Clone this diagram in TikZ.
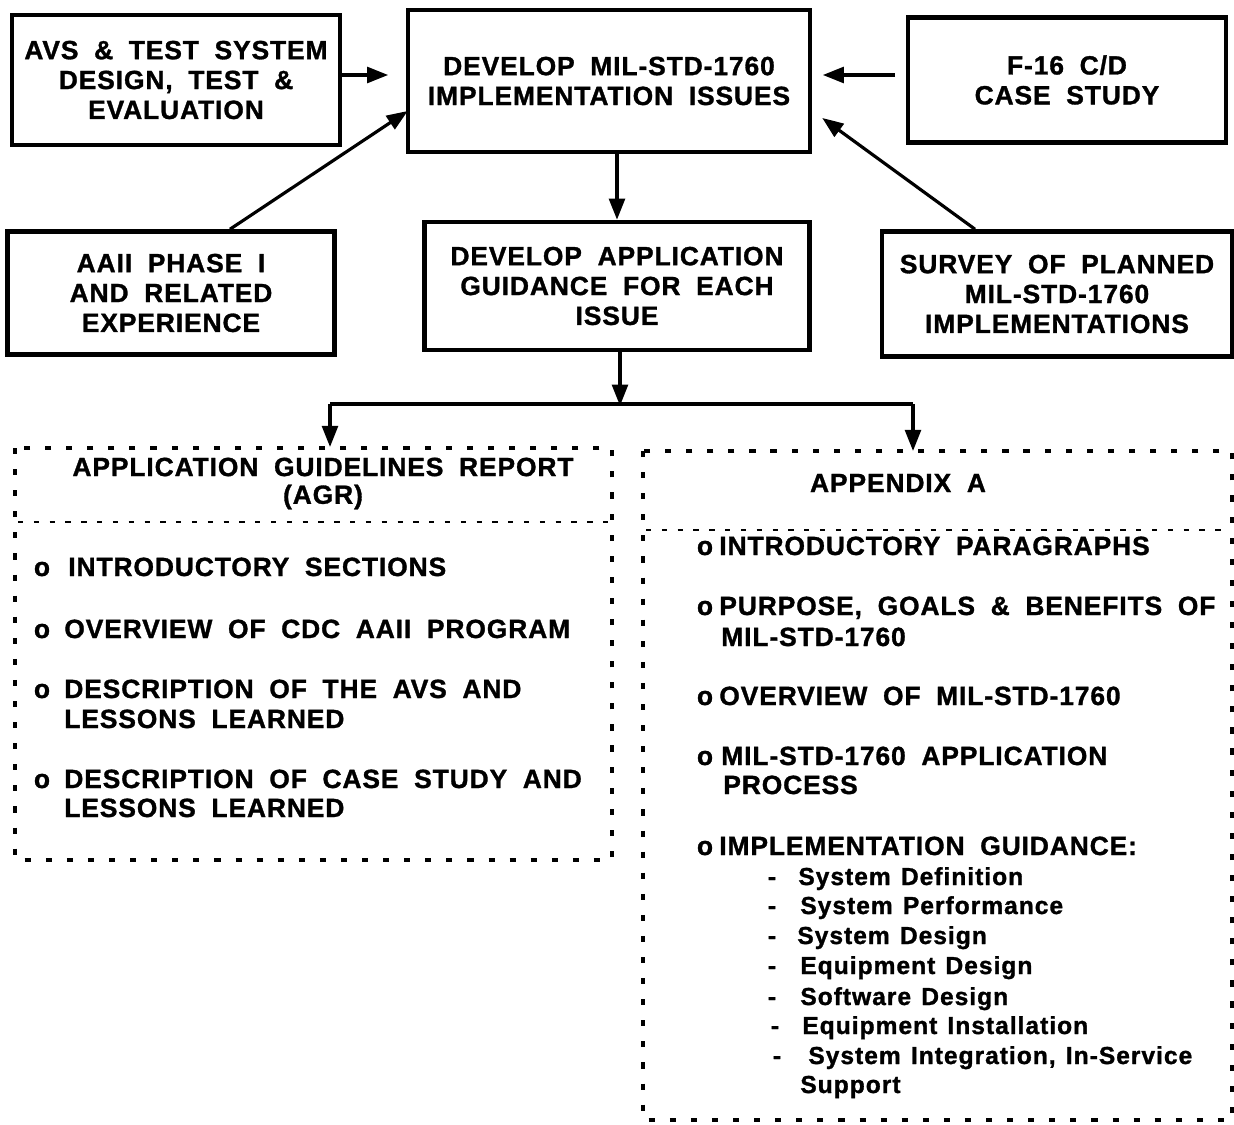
\documentclass[tikz,border=0pt]{standalone}
\usepackage{fontspec}
\setmainfont{Liberation Sans}
\newfontfamily\heavy[LetterSpace=3.5,WordSpace=1.9,FakeBold=1.2]{Liberation Sans}
\newfontfamily\heavysub[LetterSpace=4,WordSpace=1.3,FakeBold=1.2]{Liberation Sans}
\usetikzlibrary{arrows.meta,calc}

\tikzset{
  box/.style={draw, line width=2.6pt, rectangle, align=center, inner sep=0pt,
    font=\heavy\bfseries\fontsize{15}{17}\selectfont},
  arr/.style={line width=1.8pt, -{Triangle[length=12pt,width=9pt]}},
  link/.style={line width=1.8pt},
  dotbox/.style={line width=2.8pt, dash pattern=on 3.5pt off 8.5pt},
  divider/.style={line width=1.6pt, dash pattern=on 3pt off 6pt},
  caps/.style={inner sep=0pt, font=\heavy\bfseries\fontsize{15}{17}\selectfont},
  sub/.style={inner sep=0pt, font=\heavysub\bfseries\fontsize{14}{16}\selectfont},
}

\begin{document}
\begin{tikzpicture}[x=0.02cm, y=-0.02cm]
\useasboundingbox[fill=white] (0,0) rectangle (1234,1125);

% upper flow boxes
\node[box, minimum width=6.56cm, minimum height=2.6cm] (avs) at (176,80)
  {AVS \& TEST SYSTEM\\DESIGN, TEST \&\\EVALUATION};
\node[box, minimum width=8.04cm, minimum height=2.84cm] (ctr) at (609,81)
  {DEVELOP MIL-STD-1760\\IMPLEMENTATION ISSUES};
\node[box, minimum width=6.36cm, minimum height=2.5cm] (f16) at (1067,80)
  {F-16 C/D\\CASE STUDY};
\node[box, minimum width=6.54cm, minimum height=2.46cm] (aaii) at (171,293)
  {AAII PHASE I\\AND RELATED\\EXPERIENCE};
\node[box, minimum width=7.7cm, minimum height=2.56cm] (dev) at (617,286)
  {DEVELOP APPLICATION\\GUIDANCE FOR EACH\\ISSUE};
\node[box, minimum width=7.0cm, minimum height=2.5cm] (svy) at (1057,294)
  {SURVEY OF PLANNED\\MIL-STD-1760\\IMPLEMENTATIONS};

% connectors into the issues box
\draw[arr, shorten >=10pt] (avs.east |- 0,75) -- (ctr.west |- 0,75);
\draw[arr, shorten <=6pt, shorten >=6pt] (f16.west |- 0,75) -- (ctr.east |- 0,75);
\draw[arr] ([xshift=1.18cm]aaii.north) -- ([xshift=0.04cm,yshift=-0.6cm]ctr.west);
\draw[arr] ([xshift=-1.64cm]svy.north) -- ([xshift=0.2cm,yshift=-0.74cm]ctr.east);
\draw[arr] (ctr.south -| dev.north) -- (dev.north);

% split towards the two documents
\coordinate (split) at (620,404);
\coordinate (agrin) at (330,447);
\coordinate (appin) at (913,451);
\draw[arr, shorten >=-1pt] (dev.south -| split) -- (split);
\draw[link] (agrin |- split) -- (appin |- split);
\draw[arr] (agrin |- split) -- (agrin);
\draw[arr] (appin |- split) -- (appin);

% Application Guidelines Report
\draw[dotbox] (15,448) rectangle (612,860);
\draw[divider] (18,522) -- (609,522);
\node[caps] (agrt1) at (323,467) {APPLICATION GUIDELINES REPORT};
\node[caps] (agrt2) at (323,497) {(AGR)};
\node[caps, anchor=base] (agrb1) at (42,576) {o};
\node[caps, anchor=base west] (agri1) at (68,576) {INTRODUCTORY SECTIONS};
\node[caps, anchor=base] (agrb2) at (42,638) {o};
\node[caps, anchor=base west] (agri2) at (64,638) {OVERVIEW OF CDC AAII PROGRAM};
\node[caps, anchor=base] (agrb3) at (42,698) {o};
\node[caps, anchor=base west] (agri3a) at (64,698) {DESCRIPTION OF THE AVS AND};
\node[caps, anchor=base west] (agri3b) at (64,728) {LESSONS LEARNED};
\node[caps, anchor=base] (agrb4) at (42,788) {o};
\node[caps, anchor=base west] (agri4a) at (64,788) {DESCRIPTION OF CASE STUDY AND};
\node[caps, anchor=base west] (agri4b) at (64,817) {LESSONS LEARNED};

% Appendix A
\draw[dotbox] (643,451) rectangle (1232,1120);
\draw[divider] (646,530) -- (1229,530);
\node[caps] (appt) at (898,483) {APPENDIX A};
\node[caps, anchor=base] (appb1) at (705,555) {o};
\node[caps, anchor=base west] (appi1) at (719,555) {INTRODUCTORY PARAGRAPHS};
\node[caps, anchor=base] (appb2) at (705,615) {o};
\node[caps, anchor=base west] (appi2a) at (719,615) {PURPOSE, GOALS \& BENEFITS OF};
\node[caps, anchor=base west] (appi2b) at (721,646) {MIL-STD-1760};
\node[caps, anchor=base] (appb3) at (705,705) {o};
\node[caps, anchor=base west] (appi3) at (719,705) {OVERVIEW OF MIL-STD-1760};
\node[caps, anchor=base] (appb4) at (705,765) {o};
\node[caps, anchor=base west] (appi4a) at (721,765) {MIL-STD-1760 APPLICATION};
\node[caps, anchor=base west] (appi4b) at (723,794) {PROCESS};
\node[caps, anchor=base] (appb5) at (705,855) {o};
\node[caps, anchor=base west] (appi5) at (719,855) {IMPLEMENTATION GUIDANCE:};

\node[sub, anchor=base] (d1) at (772,885) {-};
\node[sub, anchor=base west] (s1) at (798,885) {System Definition};
\node[sub, anchor=base] (d2) at (772,914) {-};
\node[sub, anchor=base west] (s2) at (800,914) {System Performance};
\node[sub, anchor=base] (d3) at (772,944) {-};
\node[sub, anchor=base west] (s3) at (797,944) {System Design};
\node[sub, anchor=base] (d4) at (772,974) {-};
\node[sub, anchor=base west] (s4) at (800,974) {Equipment Design};
\node[sub, anchor=base] (d5) at (772,1005) {-};
\node[sub, anchor=base west] (s5) at (800,1005) {Software Design};
\node[sub, anchor=base] (d6) at (775,1034) {-};
\node[sub, anchor=base west] (s6) at (802,1034) {Equipment Installation};
\node[sub, anchor=base] (d7) at (777,1064) {-};
\node[sub, anchor=base west] (s7a) at (808,1064) {System Integration, In-Service};
\node[sub, anchor=base west] (s7b) at (800,1093) {Support};
\end{tikzpicture}
\end{document}
